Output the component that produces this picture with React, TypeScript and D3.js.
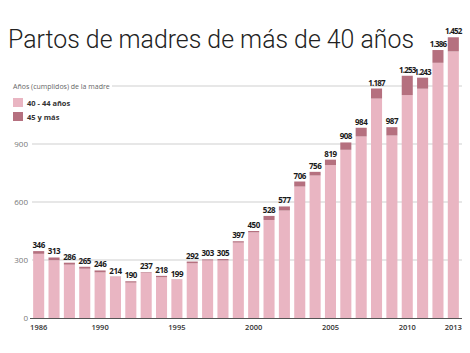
import * as d3 from "d3";

// Partos de madres de más de 40 años (España)
const years = [
  1986, 1987, 1988, 1989, 1990, 1991, 1992, 1993, 1994, 1995, 1996, 1997, 1998, 1999,
  2000, 2001, 2002, 2003, 2004, 2005, 2006, 2007, 2008, 2009, 2010, 2011, 2012, 2013,
];
const totals = [
  346, 313, 286, 265, 246, 214, 190, 237, 218, 199, 292, 303, 305, 397,
  450, 528, 577, 706, 756, 819, 908, 984, 1187, 987, 1253, 1243, 1386, 1452,
];
// 45 y más (estimated from the dark segments)
const over45 = [
  14, 14, 10, 10, 10, 2, 7, 3, 7, 2, 9, 5, 7, 7,
  7, 21, 21, 26, 19, 28, 38, 45, 52, 43, 100, 57, 66, 73,
];
const yTicks = [0, 300, 600, 900, 1200];
const xTickYears = [1986, 1990, 1995, 2000, 2005, 2010, 2013];

const W = 470;
const H = 353;
const LIGHT = "#e9b5c2";
const DARK = "#b5707f";

const fmt = d3.formatLocale({ decimal: ",", thousands: ".", grouping: [3], currency: ["", "€"] }).format(",d");

export default function App() {
  const x = d3
    .scaleBand<number>()
    .domain(years)
    .range([31, 461])
    .paddingInner(0.28)
    .paddingOuter(0.14);
  const y = d3.scaleLinear().domain([0, 1200]).range([318, 86]);

  const rows = years.map((yr, i) => ({ yr, total: totals[i], old: over45[i] }));

  return (
    <svg width={W} height={H} style={{ position: "absolute", left: 0, top: 0, background: "#fff" }}>
      <rect width={W} height={H} fill="#fff" />
      <text
        x={8}
        y={48}
        fontFamily="Roboto"
        fontWeight={300}
        fontSize={25.5}
        fill="#222"
        textLength={406}
        lengthAdjust="spacingAndGlyphs"
      >
        Partos de madres de más de 40 años
      </text>

      {/* grid */}
      {yTicks.slice(1).map((t) => (
        <g key={t}>
          <line
            x1={t === 1200 ? 112 : 32}
            x2={462}
            y1={y(t)}
            y2={y(t)}
            stroke="#cfcfcf"
            strokeWidth={1}
          />
          {t !== 1200 && (
            <text x={28} y={y(t) + 3} textAnchor="end" fontFamily="Open Sans" fontSize={8} fill="#777">
              {t}
            </text>
          )}
        </g>
      ))}
      <text x={28} y={y(0) + 3} textAnchor="end" fontFamily="Open Sans" fontSize={8} fill="#777">
        0
      </text>

      {/* bars */}
      {rows.map((d) => {
        const bx = x(d.yr)!;
        const bw = x.bandwidth();
        return (
          <g key={d.yr}>
            <rect x={bx} y={y(d.total - d.old)} width={bw} height={y(0) - y(d.total - d.old)} fill={LIGHT} />
            <rect x={bx} y={y(d.total)} width={bw} height={y(d.total - d.old) - y(d.total)} fill={DARK} />
            <text
              x={bx + bw / 2}
              y={y(d.total) - 3}
              textAnchor="middle"
              fontFamily="Open Sans"
              fontWeight={700}
              fontSize={8}
              letterSpacing={d.total >= 1000 ? -0.8 : -0.45}
              fill="#1a1a1a"
            >
              {fmt(d.total)}
            </text>
          </g>
        );
      })}

      {/* baseline */}
      <line x1={30} x2={462} y1={y(0) + 0.5} y2={y(0) + 0.5} stroke="#555" strokeWidth={1.2} />
      {xTickYears.map((yr) => (
        <text
          key={yr}
          x={x(yr)! + x.bandwidth() / 2}
          y={330}
          textAnchor="middle"
          fontFamily="Open Sans"
          fontWeight={600}
          fontSize={7.5}
          fill="#333"
        >
          {yr}
        </text>
      ))}

      {/* legend */}
      <text x={13} y={89} fontFamily="Open Sans" fontSize={7} fill="#666">
        Años (cumplidos) de la madre
      </text>
      <rect x={13} y={98} width={10} height={9} fill={LIGHT} />
      <text x={27} y={105.5} fontFamily="Open Sans" fontWeight={700} fontSize={7.5} fill="#333">
        40 - 44 años
      </text>
      <rect x={13} y={112} width={10} height={9} fill={DARK} />
      <text x={27} y={119.5} fontFamily="Open Sans" fontWeight={700} fontSize={7.5} fill="#333">
        45 y más
      </text>
    </svg>
  );
}
